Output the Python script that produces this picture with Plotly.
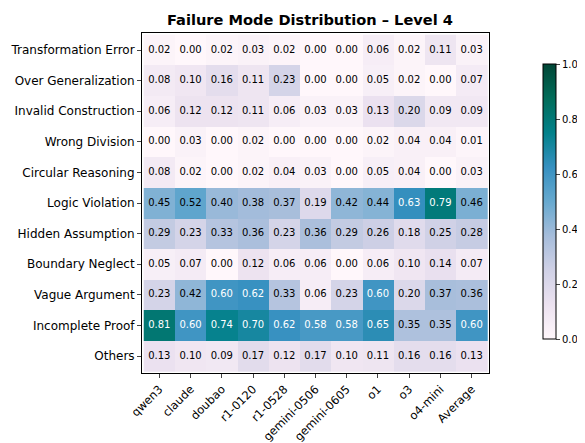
import plotly.graph_objects as go

models = ["qwen3", "claude", "doubao", "r1-0120", "r1-0528", "gemini-0506",
          "gemini-0605", "o1", "o3", "o4-mini", "Average"]
modes = ["Transformation Error", "Over Generalization", "Invalid Construction",
         "Wrong Division", "Circular Reasoning", "Logic Violation",
         "Hidden Assumption", "Boundary Neglect", "Vague Argument",
         "Incomplete Proof", "Others"]

transformation_error = [0.02, 0.00, 0.02, 0.03, 0.02, 0.00, 0.00, 0.06, 0.02, 0.11, 0.03]
over_generalization = [0.08, 0.10, 0.16, 0.11, 0.23, 0.00, 0.00, 0.05, 0.02, 0.00, 0.07]
invalid_construction = [0.06, 0.12, 0.12, 0.11, 0.06, 0.03, 0.03, 0.13, 0.20, 0.09, 0.09]
wrong_division = [0.00, 0.03, 0.00, 0.02, 0.00, 0.00, 0.00, 0.02, 0.04, 0.04, 0.01]
circular_reasoning = [0.08, 0.02, 0.00, 0.02, 0.04, 0.03, 0.00, 0.05, 0.04, 0.00, 0.03]
logic_violation = [0.45, 0.52, 0.40, 0.38, 0.37, 0.19, 0.42, 0.44, 0.63, 0.79, 0.46]
hidden_assumption = [0.29, 0.23, 0.33, 0.36, 0.23, 0.36, 0.29, 0.26, 0.18, 0.25, 0.28]
boundary_neglect = [0.05, 0.07, 0.00, 0.12, 0.06, 0.06, 0.00, 0.06, 0.10, 0.14, 0.07]
vague_argument = [0.23, 0.42, 0.60, 0.62, 0.33, 0.06, 0.23, 0.60, 0.20, 0.37, 0.36]
incomplete_proof = [0.81, 0.60, 0.74, 0.70, 0.62, 0.58, 0.58, 0.65, 0.35, 0.35, 0.60]
others = [0.13, 0.10, 0.09, 0.17, 0.12, 0.17, 0.10, 0.11, 0.16, 0.16, 0.13]

z = [transformation_error, over_generalization, invalid_construction, wrong_division,
     circular_reasoning, logic_violation, hidden_assumption, boundary_neglect,
     vague_argument, incomplete_proof, others]

# matplotlib PuBuGn
pubugn = ["#fff7fb", "#ece2f0", "#d0d1e6", "#a6bddb", "#67a9cf",
          "#3690c0", "#02818a", "#016c59", "#014636"]
colorscale = [[i / 8, c] for i, c in enumerate(pubugn)]

fig = go.Figure()
fig.add_trace(go.Heatmap(
    z=z, x=models, y=modes, zmin=0, zmax=1, colorscale=colorscale,
    hoverinfo="skip",
    colorbar=dict(
        x=1.156, xanchor="left", xpad=0, y=0.503, yanchor="middle", ypad=0, len=0.81,
        thickness=13, outlinecolor="black", outlinewidth=1,
        tickvals=[0, 0.2, 0.4, 0.6, 0.8, 1.0], ticktext=["0.0", "0.2", "0.4", "0.6", "0.8", "1.0"],
        ticks="outside", ticklen=4, tickfont=dict(size=10, color="black"),
    ),
))

tx, ty, tt, tc = [], [], [], []
for r, row in enumerate(z):
    for c, v in enumerate(row):
        tx.append(models[c])
        ty.append(modes[r])
        tt.append(f"{v:.2f}")
        tc.append("white" if v > 0.55 else "black")

fig.add_trace(go.Scatter(
    x=tx, y=ty, text=tt, mode="text", hoverinfo="skip",
    textfont=dict(color=tc, size=10, family="DejaVu Sans"),
    showlegend=False,
))

# page body adds an 8px offset, so the figure is 8px smaller on each side
fig.update_layout(
    width=577, height=435,
    margin=dict(l=134, r=96, t=25, b=70, autoexpand=False),
    paper_bgcolor="white", plot_bgcolor="white",
    font=dict(family="DejaVu Sans", color="black"),
    title=dict(text="<b>Failure Mode Distribution – Level 4</b>", xref="paper", x=0.484,
               xanchor="center", yref="container", y=0.972, yanchor="middle",
               font=dict(size=14.6)),
    xaxis=dict(tickangle=-45, ticks="outside", ticklen=4, tickfont=dict(size=11.5),
               showline=True, mirror=True, linecolor="black", linewidth=1,
               showgrid=False, zeroline=False, automargin=False),
    yaxis=dict(autorange="reversed", ticks="outside", ticklen=4, tickfont=dict(size=12),
               showline=True, mirror=True, linecolor="black", linewidth=1,
               showgrid=False, zeroline=False, automargin=False),
)

fig.write_html("out.html")
